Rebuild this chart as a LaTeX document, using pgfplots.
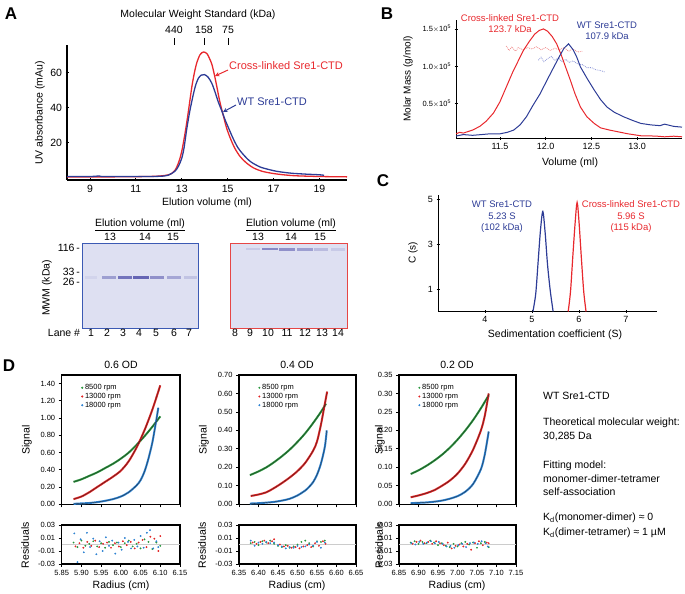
\documentclass[border=0pt]{standalone}
\usepackage{pgfplots}
\pgfplotsset{compat=1.18}
\usepackage{fontspec}
\setmainfont{Liberation Sans}
\definecolor{Ablue}{RGB}{45,60,150}
\definecolor{Ared}{RGB}{232,40,45}
\definecolor{Blred}{RGB}{240,140,140}
\definecolor{Blblue}{RGB}{140,150,215}
\definecolor{Dgreen}{RGB}{40,150,60}
\definecolor{Dred}{RGB}{225,35,35}
\definecolor{Dblue}{RGB}{45,130,210}
\definecolor{gelbg}{RGB}{222,224,242}
\definecolor{band}{RGB}{80,80,170}
\definecolor{gelblue}{RGB}{60,90,180}
\definecolor{gelred}{RGB}{230,70,70}
\pgfplotsset{every axis/.append style={scale only axis, anchor=south west,
  /pgf/number format/assume math mode=true, tick align=outside, major tick length=3pt,
  tick style={black, line width=0.8pt}},
  dmain/.style={height=129.3pt, ymin=0, axis line style={line width=1.2pt},
    xtick pos=bottom, ytick pos=left, xticklabels={},
    ticklabel style={font=\fontsize{7.5}{8}\selectfont},
    yticklabel style={/pgf/number format/fixed, /pgf/number format/fixed zerofill, /pgf/number format/precision=2},
    legend style={at={(0.14,0.96)}, anchor=north west, draw=none, fill=none, font=\fontsize{7.5}{8}\selectfont, row sep=-2pt},
    legend cell align=left},
  dres/.style={height=39pt, ymin=-0.03, ymax=0.03, ytick={-0.03,-0.01,0.01,0.03},
    yticklabels={-0.03,-0.01,0.01,0.03}, scaled y ticks=false, scaled x ticks=false,
    axis line style={line width=1.2pt}, xtick pos=bottom, ytick pos=left,
    ticklabel style={font=\fontsize{7.5}{8}\selectfont},
    xticklabel style={/pgf/number format/fixed, /pgf/number format/fixed zerofill, /pgf/number format/precision=2}},
  gel/.style={height=85pt, xtick=\empty, ytick=\empty, axis background/.style={fill=gelbg}, clip=true},
  fitline/.style={black!85, line width=0.3pt, smooth, forget plot},
  dcurve/.style={line width=2pt, smooth, forget plot}
}
\begin{document}
\begin{tikzpicture}
\useasboundingbox (0,0) rectangle (685pt,594pt);
% ---------------- Panel A chromatogram
\begin{axis}[at={(67pt,414pt)}, width=280pt, height=135pt, xmin=8, xmax=20.2, ymin=-1.5, ymax=76,
  axis lines=left, axis line style={-, line width=1.2pt}, xtick={9,11,13,15,17,19}, ytick={20,40,60},
  ticklabel style={font=\fontsize{10.5}{12}\selectfont}, clip=false]
\addplot[Ared, line width=1.3pt, smooth] coordinates {(8.0,0.3) (9.0,0.3) (10.0,0.3) (11.0,0.4) (11.8,0.6) (12.2,1.0) (12.5,1.8) (12.7,4) (12.8,6.5) (12.9,10) (13.0,15) (13.1,22) (13.2,30) (13.3,39) (13.44,52) (13.55,60) (13.66,66) (13.8,70.5) (13.95,72) (14.1,71) (14.2,68.5) (14.31,65) (14.42,59) (14.53,52) (14.65,44) (14.82,35) (14.95,28.5) (15.1,23) (15.3,17) (15.54,12) (15.8,8.5) (16.12,5.5) (16.5,3.5) (17.0,2.2) (17.5,1.4) (18,0.9) (19,0.5) (20.2,0.3)};
\addplot[Ablue, line width=1.3pt, smooth] coordinates {(8.0,0.5) (9.0,0.5) (9.4,0.8) (9.6,0.5) (11.0,0.5) (12.0,0.6) (12.4,1.2) (12.7,3.5) (12.86,6.5) (13.0,11) (13.1,17) (13.22,28) (13.35,38) (13.51,48) (13.62,53.5) (13.73,57) (13.85,58.7) (13.99,59) (14.15,57.5) (14.31,54) (14.45,49) (14.6,43) (14.75,38) (14.89,33) (15.05,28) (15.25,22) (15.45,17) (15.69,13) (16.0,9) (16.41,6) (16.8,4.5) (17.13,3.5) (17.5,2.8) (17.86,2.3) (18.5,1.8) (19.0,1.5) (19.2,1.2)};
\end{axis}
\node[font=\fontsize{10.5}{12}\selectfont] at (198pt,579pt) {Molecular Weight Standard (kDa)};
\node[font=\fontsize{10.5}{12}\selectfont] at (174pt,564pt) {440};
\node[font=\fontsize{10.5}{12}\selectfont] at (204pt,564pt) {158};
\node[font=\fontsize{10.5}{12}\selectfont] at (228pt,564pt) {75};
\draw[line width=0.9pt] (174pt,549pt) -- (174pt,556pt);
\draw[line width=0.9pt] (204pt,549pt) -- (204pt,556pt);
\draw[line width=0.9pt] (228pt,549pt) -- (228pt,556pt);
\node[anchor=west, text=Ared, font=\fontsize{11}{12}\selectfont, inner sep=0pt] at (229pt,{594pt-66pt}) {Cross-linked Sre1-CTD};
\draw[Ared, line width=1pt, -stealth] (228pt,{594pt-70pt}) -- (215pt,{594pt-76pt});
\node[anchor=west, text=Ablue, font=\fontsize{11}{12}\selectfont, inner sep=0pt] at (237pt,{594pt-102pt}) {WT Sre1-CTD};
\draw[Ablue, line width=1pt, -stealth] (236pt,{594pt-105pt}) -- (223pt,{594pt-112pt});
\node[rotate=90, font=\fontsize{10.5}{12}\selectfont] at (40pt,{594pt-113pt}) {UV absorbance (mAu)};
\node[font=\fontsize{10.5}{12}\selectfont] at (207pt,{594pt-203pt}) {Elution volume (ml)};
% ---------------- Panel A gels
\begin{axis}[gel, at={(82.7pt,265.7pt)}, width=115.6pt, xmin=82.7, xmax=198.3, ymin=-328.3, ymax=-243.3,
  axis line style={draw=gelblue, line width=1.2pt}]
\addplot[band, line width=2.6pt, opacity=0.08] coordinates {(85,-277.7) (97,-277.7)};
\addplot[band, line width=2.6pt, opacity=0.45] coordinates {(102,-277.7) (116,-277.7)};
\addplot[band, line width=3pt, opacity=0.75] coordinates {(118,-277.7) (132,-277.7)};
\addplot[band, line width=3pt, opacity=0.85] coordinates {(133,-277.7) (149,-277.7)};
\addplot[band, line width=2.8pt, opacity=0.55] coordinates {(150,-277.7) (164,-277.7)};
\addplot[band, line width=2.6pt, opacity=0.4] coordinates {(167,-277.7) (181,-277.7)};
\addplot[band, line width=2.6pt, opacity=0.2] coordinates {(184,-277.7) (197,-277.7)};
\end{axis}
\begin{axis}[gel, at={(230.7pt,265.7pt)}, width=116.6pt, xmin=230.7, xmax=347.3, ymin=-328.3, ymax=-242.7,
  axis line style={draw=gelred, line width=1.2pt}]
\addplot[band, line width=2.4pt, opacity=0.15] coordinates {(246,-248.3) (260,-248.3)};
\addplot[band, line width=2.6pt, opacity=0.6] coordinates {(262,-248.6) (278,-248.6)};
\addplot[band, line width=2.6pt, opacity=0.55] coordinates {(279,-248.8) (295,-248.8)};
\addplot[band, line width=2.6pt, opacity=0.45] coordinates {(297,-249) (313,-249)};
\addplot[band, line width=2.4pt, opacity=0.25] coordinates {(314,-249) (328,-249)};
\addplot[band, line width=2.4pt, opacity=0.15] coordinates {(331,-249) (345,-249)};
\end{axis}
\begin{scope}[every node/.style={font=\fontsize{10.5}{12}\selectfont, inner sep=0pt}]
\node at (140pt,{594pt-225pt}) {\underline{Elution volume (ml)}};
\node at (291pt,{594pt-225pt}) {\underline{Elution volume (ml)}};
\node at (110pt,{594pt-237pt}) {13};
\node at (145pt,{594pt-237pt}) {14};
\node at (173pt,{594pt-237pt}) {15};
\node at (258pt,{594pt-237pt}) {13};
\node at (291pt,{594pt-237pt}) {14};
\node at (320pt,{594pt-237pt}) {15};
\node[anchor=east] at (80pt,{594pt-248.3pt}) {116\,-};
\node[anchor=east] at (80pt,{594pt-271.7pt}) {33\,-};
\node[anchor=east] at (80pt,{594pt-281.7pt}) {26\,-};
\node[rotate=90] at (47pt,{594pt-288pt}) {MWM (kDa)};
\node at (64pt,{594pt-333pt}) {Lane \#};
\node at (91pt,{594pt-333pt}) {1};
\node at (107pt,{594pt-333pt}) {2};
\node at (123pt,{594pt-333pt}) {3};
\node at (139pt,{594pt-333pt}) {4};
\node at (156pt,{594pt-333pt}) {5};
\node at (174pt,{594pt-333pt}) {6};
\node at (189pt,{594pt-333pt}) {7};
\node at (235pt,{594pt-333pt}) {8};
\node at (250pt,{594pt-333pt}) {9};
\node at (268pt,{594pt-333pt}) {10};
\node at (287pt,{594pt-333pt}) {11};
\node at (305pt,{594pt-333pt}) {12};
\node at (322pt,{594pt-333pt}) {13};
\node at (338pt,{594pt-333pt}) {14};
\end{scope}
% ---------------- Panel B
\begin{axis}[at={(456pt,455.7pt)}, width=226pt, height=118.3pt, xmin=11.02, xmax=13.49, ymin=0.03, ymax=1.62,
  axis lines=left, axis line style={-, line width=1pt}, xtick={11.5,12.0,12.5,13.0},
  xticklabels={11.5,12.0,12.5,13.0}, ytick={0.5,1.0,1.5},
  yticklabels={0.5$\times$10\textsuperscript{5},1.0$\times$10\textsuperscript{5},1.5$\times$10\textsuperscript{5}},
  xticklabel style={font=\fontsize{9}{10}\selectfont}, yticklabel style={font=\fontsize{7.5}{8}\selectfont}]
\addplot[Blred, line width=0.8pt, densely dotted] coordinates {(11.57,1.27) (11.6,1.21) (11.63,1.26) (11.67,1.2) (11.7,1.25) (11.75,1.22) (11.8,1.25) (11.85,1.23) (11.9,1.26) (11.95,1.22) (12.0,1.25) (12.05,1.21) (12.1,1.24) (12.15,1.22) (12.2,1.25) (12.25,1.2) (12.3,1.23) (12.35,1.19) (12.4,1.2)};
\addplot[Blblue, line width=0.8pt, densely dotted] coordinates {(11.92,1.08) (11.95,1.12) (11.98,1.06) (12.02,1.1) (12.06,1.13) (12.1,1.08) (12.14,1.11) (12.18,1.06) (12.22,1.09) (12.26,1.05) (12.3,1.07) (12.35,1.03) (12.4,1.02) (12.45,0.98) (12.5,0.98) (12.55,0.95) (12.6,0.94) (12.65,0.92)};
\addplot[Ared, line width=1pt] coordinates {(11.02,0.09) (11.06,0.11) (11.1,0.1) (11.15,0.12) (11.2,0.14) (11.28,0.19) (11.35,0.26) (11.43,0.37) (11.5,0.52) (11.57,0.72) (11.64,0.92) (11.7,1.07) (11.756,1.21) (11.82,1.33) (11.88,1.43) (11.93,1.48) (11.976,1.5) (12.02,1.47) (12.07,1.4) (12.12,1.3) (12.17,1.15) (12.22,0.98) (12.27,0.81) (12.32,0.63) (12.38,0.45) (12.45,0.32) (12.53,0.23) (12.6,0.17) (12.7,0.14) (12.78,0.12) (12.9,0.09) (13.04,0.064) (13.2,0.06) (13.3,0.05) (13.4,0.058) (13.49,0.05)};
\addplot[Ablue, line width=1pt] coordinates {(11.02,0.06) (11.1,0.08) (11.2,0.07) (11.3,0.08) (11.39,0.09) (11.5,0.09) (11.58,0.11) (11.65,0.14) (11.72,0.21) (11.79,0.32) (11.86,0.47) (11.94,0.63) (12.01,0.8) (12.09,0.99) (12.15,1.13) (12.2,1.24) (12.25,1.3) (12.3,1.22) (12.34,1.12) (12.38,0.99) (12.45,0.84) (12.53,0.68) (12.6,0.55) (12.67,0.45) (12.75,0.38) (12.85,0.32) (12.95,0.27) (13.04,0.23) (13.15,0.21) (13.25,0.2) (13.3,0.22) (13.4,0.19) (13.49,0.18)};
\end{axis}
\node[rotate=90, font=\fontsize{10}{12}\selectfont] at (408pt,{594pt-79pt}) {Molar Mass (g/mol)};
\node[font=\fontsize{10.5}{12}\selectfont] at (570pt,{594pt-163pt}) {Volume (ml)};
\node[text=Ared, font=\fontsize{9.5}{11}\selectfont, align=center, inner sep=0pt] at (510pt,{594pt-23.5pt}) {Cross-linked Sre1-CTD\\123.7 kDa};
\node[text=Ablue, font=\fontsize{9.5}{11}\selectfont, align=center, inner sep=0pt] at (607pt,{594pt-30.5pt}) {WT Sre1-CTD\\107.9 kDa};
% ---------------- Panel C
\begin{axis}[at={(438pt,282.5pt)}, width=219pt, height=116.5pt, xmin=3.0, xmax=7.66, ymin=0, ymax=5.18,
  axis lines=left, axis line style={-, line width=1pt}, xtick={4,5,6,7}, ytick={1,3,5},
  ticklabel style={font=\fontsize{9}{10}\selectfont}]
\addplot[Ablue, line width=1.2pt, smooth] coordinates {(5.02,0) (5.08,0.8) (5.13,2.2) (5.18,3.6) (5.23,4.45) (5.28,3.5) (5.33,2.1) (5.39,0.9) (5.45,0)};
\addplot[Ared, line width=1.2pt, smooth] coordinates {(5.77,0) (5.82,0.9) (5.87,2.5) (5.92,4.0) (5.96,4.85) (6.0,4.0) (6.05,2.4) (6.1,0.9) (6.15,0)};
\end{axis}
\node[rotate=90, font=\fontsize{10}{12}\selectfont] at (413pt,{594pt-253pt}) {C (s)};
\node[font=\fontsize{10.5}{12}\selectfont] at (555pt,{594pt-335pt}) {Sedimentation coefficient (S)};
\node[text=Ablue, font=\fontsize{9.5}{11.5}\selectfont, align=center, inner sep=0pt] at (502pt,{594pt-217pt}) {WT Sre1-CTD\\5.23 S\\(102 kDa)};
\node[text=Ared, font=\fontsize{9.5}{11.5}\selectfont, align=center, inner sep=0pt] at (631pt,{594pt-217pt}) {Cross-linked Sre1-CTD\\5.96 S\\(115 kDa)};
% ---------------- Panel D1
\begin{axis}[dmain, at={(61.7pt,89.7pt)}, width=118.3pt, xmin=5.85, xmax=6.15, ymax=1.5,
  xtick={5.85,5.90,5.95,6.00,6.05,6.10,6.15}, ytick={0,0.2,0.4,0.6,0.8,1.0,1.2,1.4}]
\addplot[Dgreen, dcurve] coordinates {(5.88,0.26) (5.90,0.29) (5.92,0.33) (5.94,0.37) (5.96,0.42) (5.98,0.47) (6.00,0.53) (6.02,0.60) (6.04,0.69) (6.06,0.79) (6.08,0.90) (6.10,1.02)};
\addplot[Dred, dcurve] coordinates {(5.88,0.06) (5.90,0.09) (5.92,0.14) (5.94,0.20) (5.96,0.26) (5.98,0.32) (6.00,0.39) (6.02,0.50) (6.04,0.66) (6.06,0.86) (6.08,1.10) (6.10,1.38)};
\addplot[Dblue, dcurve] coordinates {(5.88,0.005) (5.90,0.01) (5.92,0.015) (5.94,0.025) (5.96,0.04) (5.98,0.06) (6.00,0.09) (6.02,0.14) (6.04,0.22) (6.05,0.28) (6.06,0.38) (6.07,0.53) (6.08,0.72) (6.09,0.98) (6.095,1.12)};
\addplot[fitline] coordinates {(5.88,0.26) (5.90,0.29) (5.92,0.33) (5.94,0.37) (5.96,0.42) (5.98,0.47) (6.00,0.53) (6.02,0.60) (6.04,0.69) (6.06,0.79) (6.08,0.90) (6.10,1.02)};
\addplot[fitline] coordinates {(5.88,0.06) (5.90,0.09) (5.92,0.14) (5.94,0.20) (5.96,0.26) (5.98,0.32) (6.00,0.39) (6.02,0.50) (6.04,0.66) (6.06,0.86) (6.08,1.10) (6.10,1.38)};
\addplot[fitline] coordinates {(5.88,0.005) (5.90,0.01) (5.92,0.015) (5.94,0.025) (5.96,0.04) (5.98,0.06) (6.00,0.09) (6.02,0.14) (6.04,0.22) (6.05,0.28) (6.06,0.38) (6.07,0.53) (6.08,0.72) (6.09,0.98) (6.095,1.12)};
\addlegendimage{only marks, mark=*, mark size=0.8pt, Dgreen}
\addlegendimage{only marks, mark=*, mark size=0.8pt, Dred}
\addlegendimage{only marks, mark=*, mark size=0.8pt, Dblue}
\legend{8500 rpm,13000 rpm,18000 rpm}
\end{axis}
\begin{axis}[dres, at={(61.7pt,30pt)}, width=118.3pt, xmin=5.85, xmax=6.15, xtick={5.85,5.90,5.95,6.00,6.05,6.10,6.15}]
\addplot[gray!40, line width=1pt] coordinates {(5.85,0) (6.15,0)};
\addplot[only marks, mark=*, mark size=0.7pt, Dgreen] coordinates {(5.88,0.003) (5.89,-0.004) (5.90,0.006) (5.91,-0.002) (5.92,0.001) (5.93,0.005) (5.94,-0.003) (5.95,0.002) (5.96,-0.005) (5.97,0.004) (5.98,-0.001) (5.99,0.003) (6.00,-0.004) (6.01,0.002) (6.02,0.006) (6.03,-0.003) (6.04,0.001) (6.05,-0.006) (6.06,0.008) (6.07,0.004) (6.08,-0.007) (6.09,0.003) (6.10,-0.002)};
\addplot[only marks, mark=*, mark size=0.7pt, Dred] coordinates {(5.885,-0.003) (5.895,0.002) (5.905,-0.005) (5.915,0.004) (5.925,-0.002) (5.935,0.006) (5.945,-0.004) (5.955,0.001) (5.965,0.003) (5.975,-0.005) (5.985,0.002) (5.995,-0.003) (6.005,0.005) (6.015,-0.001) (6.025,0.004) (6.035,-0.006) (6.045,0.003) (6.055,0.007) (6.065,-0.004) (6.075,0.012) (6.085,0.009) (6.095,-0.010) (6.10,0.013)};
\addplot[only marks, mark=*, mark size=0.7pt, Dblue] coordinates {(5.882,0.017) (5.89,-0.027) (5.898,0.008) (5.906,-0.012) (5.914,0.018) (5.922,-0.004) (5.93,0.009) (5.938,-0.015) (5.946,0.005) (5.954,-0.010) (5.962,0.011) (5.97,-0.002) (5.978,0.006) (5.986,-0.014) (5.994,0.003) (6.002,-0.008) (6.01,0.010) (6.018,0.004) (6.026,-0.006) (6.034,0.007) (6.042,-0.003) (6.05,0.013) (6.058,-0.005) (6.066,0.018) (6.074,0.022) (6.082,-0.006) (6.09,0.005) (6.095,-0.004)};
\end{axis}
% ---------------- Panel D2
\begin{axis}[dmain, at={(239pt,89.7pt)}, width=117pt, xmin=6.35, xmax=6.65, ymax=0.70,
  xtick={6.35,6.40,6.45,6.50,6.55,6.60,6.65}, ytick={0,0.1,0.2,0.3,0.4,0.5,0.6,0.7}]
\addplot[Dgreen, dcurve] coordinates {(6.378,0.158) (6.40,0.178) (6.42,0.200) (6.44,0.228) (6.46,0.26) (6.48,0.296) (6.50,0.338) (6.52,0.385) (6.54,0.44) (6.56,0.50) (6.573,0.545)};
\addplot[Dred, dcurve] coordinates {(6.38,0.045) (6.40,0.053) (6.42,0.065) (6.44,0.088) (6.46,0.115) (6.48,0.145) (6.50,0.18) (6.52,0.225) (6.54,0.29) (6.55,0.34) (6.56,0.43) (6.568,0.52) (6.576,0.61)};
\addplot[Dblue, dcurve] coordinates {(6.378,0.004) (6.40,0.006) (6.42,0.009) (6.44,0.013) (6.46,0.02) (6.48,0.03) (6.50,0.048) (6.52,0.075) (6.53,0.095) (6.54,0.12) (6.55,0.16) (6.56,0.22) (6.57,0.31) (6.575,0.40)};
\addplot[fitline] coordinates {(6.378,0.158) (6.40,0.178) (6.42,0.200) (6.44,0.228) (6.46,0.26) (6.48,0.296) (6.50,0.338) (6.52,0.385) (6.54,0.44) (6.56,0.50) (6.573,0.545)};
\addplot[fitline] coordinates {(6.38,0.045) (6.40,0.053) (6.42,0.065) (6.44,0.088) (6.46,0.115) (6.48,0.145) (6.50,0.18) (6.52,0.225) (6.54,0.29) (6.55,0.34) (6.56,0.43) (6.568,0.52) (6.576,0.61)};
\addplot[fitline] coordinates {(6.378,0.004) (6.40,0.006) (6.42,0.009) (6.44,0.013) (6.46,0.02) (6.48,0.03) (6.50,0.048) (6.52,0.075) (6.53,0.095) (6.54,0.12) (6.55,0.16) (6.56,0.22) (6.57,0.31) (6.575,0.40)};
\addlegendimage{only marks, mark=*, mark size=0.8pt, Dgreen}
\addlegendimage{only marks, mark=*, mark size=0.8pt, Dred}
\addlegendimage{only marks, mark=*, mark size=0.8pt, Dblue}
\legend{8500 rpm,13000 rpm,18000 rpm}
\end{axis}
\begin{axis}[dres, at={(239pt,30pt)}, width=117pt, xmin=6.35, xmax=6.65, xtick={6.35,6.40,6.45,6.50,6.55,6.60,6.65}]
\addplot[gray!40, line width=1pt] coordinates {(6.35,0) (6.65,0)};
\addplot[only marks, mark=*, mark size=0.7pt, Dgreen] coordinates {(6.38,0.002) (6.39,0.004) (6.40,-0.001) (6.41,0.005) (6.42,0.003) (6.43,0.006) (6.44,0.001) (6.45,-0.002) (6.46,-0.004) (6.47,-0.001) (6.48,-0.005) (6.49,-0.003) (6.50,0.000) (6.51,0.004) (6.52,0.006) (6.53,0.002) (6.54,-0.003) (6.55,0.005) (6.56,0.004) (6.57,0.006)};
\addplot[only marks, mark=*, mark size=0.7pt, Dred] coordinates {(6.385,0.003) (6.395,0.001) (6.405,0.004) (6.415,0.006) (6.425,0.002) (6.435,0.005) (6.44,0.008) (6.455,0.000) (6.465,-0.003) (6.475,-0.002) (6.485,-0.005) (6.495,-0.004) (6.505,-0.006) (6.515,-0.003) (6.525,-0.001) (6.535,-0.004) (6.545,0.002) (6.555,-0.002) (6.565,0.005) (6.572,0.001)};
\addplot[only marks, mark=*, mark size=0.7pt, Dblue] coordinates {(6.38,0.006) (6.39,-0.002) (6.40,0.003) (6.41,0.001) (6.42,0.004) (6.43,0.002) (6.44,0.003) (6.45,-0.001) (6.46,-0.003) (6.47,-0.006) (6.48,-0.004) (6.49,-0.005) (6.50,-0.002) (6.51,-0.004) (6.52,-0.003) (6.53,0.000) (6.54,-0.002) (6.55,0.004) (6.56,-0.005) (6.57,0.003)};
\end{axis}
% ---------------- Panel D3
\begin{axis}[dmain, at={(399pt,89.7pt)}, width=117pt, xmin=6.85, xmax=7.15, ymax=0.35,
  xtick={6.85,6.90,6.95,7.00,7.05,7.10,7.15}, ytick={0,0.05,0.1,0.15,0.2,0.25,0.3,0.35}]
\addplot[Dgreen, dcurve] coordinates {(6.88,0.082) (6.90,0.092) (6.92,0.104) (6.94,0.118) (6.96,0.134) (6.98,0.153) (7.00,0.175) (7.02,0.200) (7.04,0.228) (7.06,0.26) (7.08,0.295)};
\addplot[Dred, dcurve] coordinates {(6.88,0.019) (6.90,0.024) (6.92,0.03) (6.94,0.038) (6.96,0.05) (6.98,0.064) (7.00,0.083) (7.02,0.11) (7.04,0.148) (7.06,0.2) (7.07,0.24) (7.08,0.30)};
\addplot[Dblue, dcurve] coordinates {(6.88,0.003) (6.90,0.004) (6.92,0.005) (6.94,0.007) (6.96,0.01) (6.98,0.015) (7.00,0.022) (7.02,0.034) (7.04,0.055) (7.06,0.095) (7.07,0.135) (7.08,0.197)};
\addplot[fitline] coordinates {(6.88,0.082) (6.90,0.092) (6.92,0.104) (6.94,0.118) (6.96,0.134) (6.98,0.153) (7.00,0.175) (7.02,0.200) (7.04,0.228) (7.06,0.26) (7.08,0.295)};
\addplot[fitline] coordinates {(6.88,0.019) (6.90,0.024) (6.92,0.03) (6.94,0.038) (6.96,0.05) (6.98,0.064) (7.00,0.083) (7.02,0.11) (7.04,0.148) (7.06,0.2) (7.07,0.24) (7.08,0.30)};
\addplot[fitline] coordinates {(6.88,0.003) (6.90,0.004) (6.92,0.005) (6.94,0.007) (6.96,0.01) (6.98,0.015) (7.00,0.022) (7.02,0.034) (7.04,0.055) (7.06,0.095) (7.07,0.135) (7.08,0.197)};
\addlegendimage{only marks, mark=*, mark size=0.8pt, Dgreen}
\addlegendimage{only marks, mark=*, mark size=0.8pt, Dred}
\addlegendimage{only marks, mark=*, mark size=0.8pt, Dblue}
\legend{8500 rpm,13000 rpm,18000 rpm}
\end{axis}
\begin{axis}[dres, at={(399pt,30pt)}, width=117pt, xmin=6.85, xmax=7.15, xtick={6.85,6.90,6.95,7.00,7.05,7.10,7.15}]
\addplot[gray!40, line width=1pt] coordinates {(6.85,0) (7.15,0)};
\addplot[only marks, mark=*, mark size=0.7pt, Dgreen] coordinates {(6.88,0.003) (6.89,0.005) (6.90,0.001) (6.91,0.004) (6.92,0.002) (6.93,0.006) (6.94,0.003) (6.95,-0.001) (6.96,0.002) (6.97,-0.002) (6.98,-0.004) (6.99,0.001) (7.00,-0.003) (7.01,0.002) (7.02,0.004) (7.03,0.000) (7.04,0.003) (7.05,-0.005) (7.06,0.002) (7.07,0.004) (7.08,-0.004)};
\addplot[only marks, mark=*, mark size=0.7pt, Dred] coordinates {(6.885,0.001) (6.895,0.004) (6.905,0.006) (6.915,0.002) (6.925,0.004) (6.935,0.001) (6.945,0.005) (6.955,0.002) (6.965,-0.001) (6.975,0.003) (6.985,-0.006) (6.995,-0.002) (7.005,0.000) (7.015,-0.003) (7.025,0.001) (7.035,-0.008) (7.045,0.002) (7.055,0.005) (7.065,-0.001) (7.075,0.003) (7.08,0.002)};
\addplot[only marks, mark=*, mark size=0.7pt, Dblue] coordinates {(6.882,0.002) (6.892,0.000) (6.902,0.004) (6.912,0.001) (6.922,0.003) (6.932,0.005) (6.942,0.002) (6.952,0.004) (6.962,0.001) (6.972,-0.003) (6.982,-0.002) (6.992,-0.005) (7.002,-0.001) (7.012,0.001) (7.022,-0.004) (7.032,0.002) (7.042,0.003) (7.052,0.001) (7.062,0.005) (7.072,0.002) (7.078,-0.003)};
\end{axis}
% ---------------- D labels
\begin{scope}[every node/.style={font=\fontsize{10.5}{12}\selectfont}]
\node at (121pt,{594pt-365pt}) {0.6 OD};
\node at (297pt,{594pt-365pt}) {0.4 OD};
\node at (457pt,{594pt-365pt}) {0.2 OD};
\node[rotate=90] at (27pt,{594pt-440pt}) {Signal};
\node[rotate=90] at (204pt,{594pt-440pt}) {Signal};
\node[rotate=90] at (380pt,{594pt-440pt}) {Signal};
\node[rotate=90] at (25pt,{594pt-545pt}) {Residuals};
\node[rotate=90] at (202pt,{594pt-545pt}) {Residuals};
\node[rotate=90] at (379pt,{594pt-545pt}) {Residuals};
\node at (121pt,{594pt-586pt}) {Radius (cm)};
\node at (297pt,{594pt-586pt}) {Radius (cm)};
\node at (457pt,{594pt-586pt}) {Radius (cm)};
\end{scope}
\begin{scope}[every node/.style={font=\fontsize{10.5}{12}\selectfont, anchor=west, inner sep=0pt}]
\node at (543pt,{594pt-396pt}) {WT Sre1-CTD};
\node at (543pt,{594pt-423pt}) {Theoretical molecular weight:};
\node at (543pt,{594pt-437pt}) {30,285 Da};
\node at (543pt,{594pt-466pt}) {Fitting model:};
\node at (543pt,{594pt-479pt}) {monomer-dimer-tetramer};
\node at (543pt,{594pt-492pt}) {self-association};
\node at (543pt,{594pt-518pt}) {K\textsubscript{d}(monomer-dimer) ≈ 0};
\node at (543pt,{594pt-533pt}) {K\textsubscript{d}(dimer-tetramer) ≈ 1 µM};
\end{scope}
% panel letters
\begin{scope}[every node/.style={font=\fontsize{17}{18}\selectfont\bfseries}]
\node at (11pt,{594pt-14pt}) {A};
\node at (387pt,{594pt-14pt}) {B};
\node at (383pt,{594pt-181pt}) {C};
\node at (9pt,{594pt-366pt}) {D};
\end{scope}
\end{tikzpicture}
\end{document}
